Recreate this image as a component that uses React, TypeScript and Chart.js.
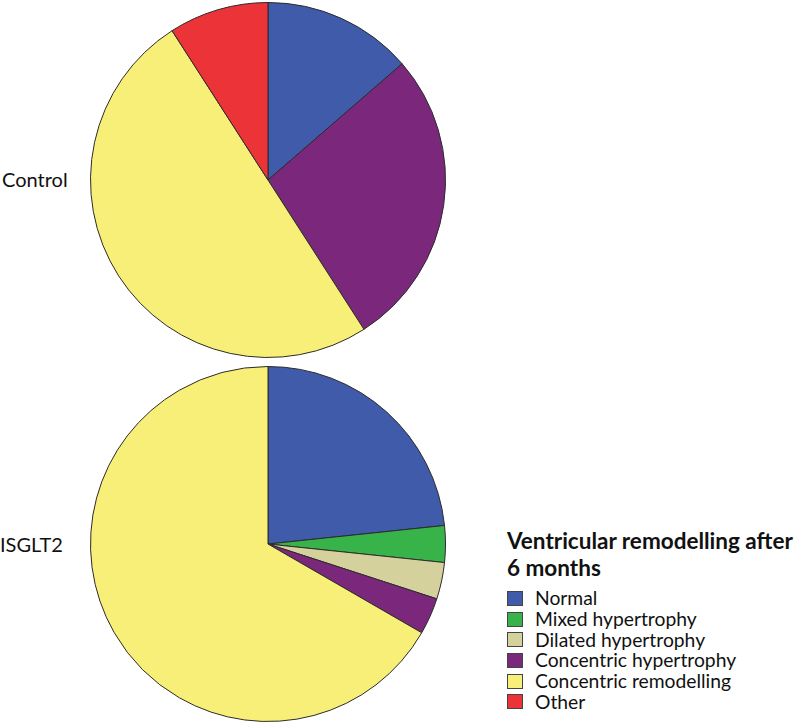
import React, { useEffect, useRef } from "react";
import { Chart, registerables } from "chart.js";

Chart.register(...registerables);

const categories = [
  "Normal",
  "Mixed hypertrophy",
  "Dilated hypertrophy",
  "Concentric hypertrophy",
  "Concentric remodelling",
  "Other",
];
const colors = ["#3f5ba9", "#37b34a", "#d5d19c", "#7b287c", "#f8ef78", "#ec3338"];
const groups = ["Control", "ISGLT2"];
const controlValues = [3, 0, 0, 6, 11, 2];
const isglt2Values = [7, 1, 1, 1, 20, 0];
const legendTitleLines = ["Ventricular remodelling after", "6 months"];

const FONT = "Lato, 'Open Sans', sans-serif";

function Pie({ values, left, top, size }: { values: number[]; left: number; top: number; size: number }) {
  const ref = useRef<HTMLCanvasElement | null>(null);
  useEffect(() => {
    if (!ref.current) return;
    const chart = new Chart(ref.current, {
      type: "pie",
      data: {
        labels: categories,
        datasets: [
          {
            data: values,
            backgroundColor: colors,
            borderColor: "#2b2b2b",
            borderWidth: 1,
          },
        ],
      },
      options: {
        animation: false,
        responsive: false,
        maintainAspectRatio: false,
        layout: { padding: 0 },
        plugins: { legend: { display: false }, tooltip: { enabled: false } },
      },
    });
    return () => chart.destroy();
  }, [values]);
  return (
    <canvas
      ref={ref}
      width={size}
      height={size}
      style={{ position: "absolute", left, top, width: size, height: size }}
    />
  );
}

export default function App() {
  return (
    <div
      style={{
        position: "fixed",
        left: 0,
        top: 0,
        width: 797,
        height: 726,
        background: "#fff",
        overflow: "hidden",
        fontFamily: FONT,
        color: "#111",
      }}
    >
      <Pie values={controlValues} left={90} top={2} size={356} />
      <Pie values={isglt2Values} left={90} top={366} size={356} />
      <div style={{ position: "absolute", left: 2, top: 167, fontSize: 20, lineHeight: "24px" }}>{groups[0]}</div>
      <div style={{ position: "absolute", left: 0, top: 532, fontSize: 20, lineHeight: "24px" }}>{groups[1]}</div>
      <div style={{ position: "absolute", left: 507, top: 527, width: 300 }}>
        {legendTitleLines.map((t, i) => (
          <div
            key={t}
            style={{
              fontWeight: 700,
              fontSize: 22.5,
              lineHeight: "27px",
              whiteSpace: "nowrap",
              marginBottom: i === legendTitleLines.length - 1 ? 7 : 0,
            }}
          >
            {t}
          </div>
        ))}
        {categories.map((c, i) => (
          <div key={c} style={{ display: "flex", alignItems: "center", height: 20.7 }}>
            <span
              style={{
                display: "inline-block",
                width: 16,
                height: 15,
                background: colors[i],
                border: "1px solid #444",
                marginRight: 12,
                boxSizing: "border-box",
              }}
            />
            <span style={{ fontSize: 19.3, lineHeight: "20px", whiteSpace: "nowrap" }}>{c}</span>
          </div>
        ))}
      </div>
    </div>
  );
}
